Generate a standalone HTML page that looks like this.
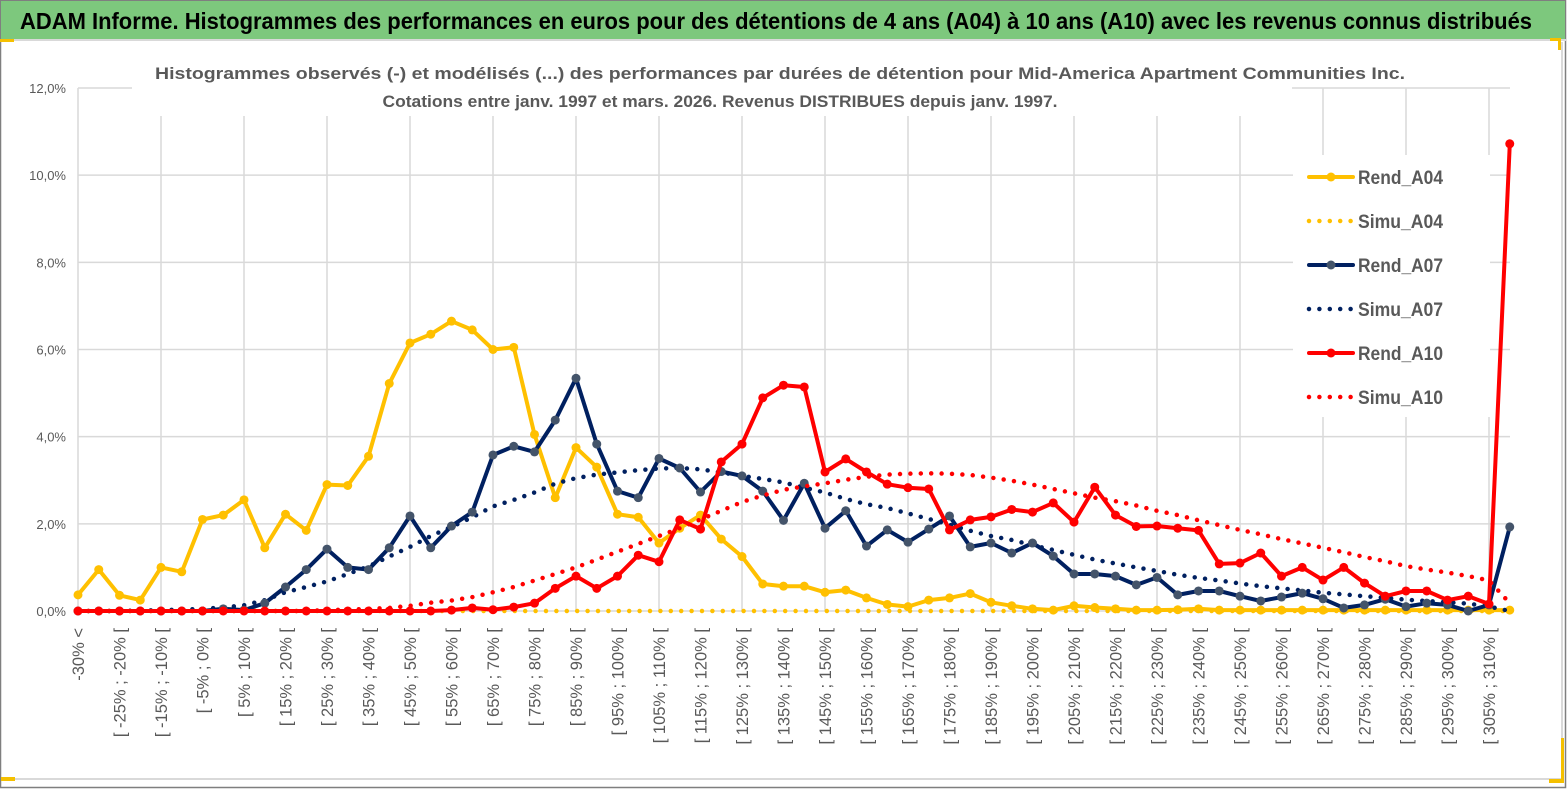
<!DOCTYPE html>
<html><head><meta charset="utf-8"><style>
html,body{margin:0;padding:0;background:#fff;}
svg{display:block;font-family:"Liberation Sans",sans-serif;}
</style></head><body>
<svg id="c" width="1567" height="789" viewBox="0 0 1567 789" xmlns="http://www.w3.org/2000/svg">
<rect x="0" y="0" width="1567" height="789" fill="#fff"/>
<rect x="0.5" y="0.5" width="1565" height="787" fill="none" stroke="#7f7f7f" stroke-width="1.5"/>
<rect x="1" y="1" width="1564" height="38" fill="#7dc87d"/>
<line x1="0" y1="40" x2="1566" y2="40" fill="none" stroke="#d9d9d9" stroke-width="2"/>
<line x1="2" y1="779" x2="1562" y2="779" stroke="#d9d9d9" stroke-width="2"/>
<line x1="1562" y1="42" x2="1562" y2="779" stroke="#d9d9d9" stroke-width="2"/>
<rect x="0" y="39" width="14" height="3" fill="#f5c000"/>
<rect x="1" y="777" width="14" height="4" fill="#f5c000"/>
<rect x="1550" y="38" width="10" height="3" fill="#f5c000"/>
<rect x="1558" y="38" width="3" height="12" fill="#f5c000"/>
<rect x="1561" y="738" width="3" height="44" fill="#f5c000"/>
<rect x="1549" y="779" width="15" height="4" fill="#f5c000"/>
<text x="20" y="29" font-size="23" font-weight="bold" fill="#000" textLength="1512" lengthAdjust="spacingAndGlyphs">ADAM Informe. Histogrammes des performances en euros pour des détentions de 4 ans (A04) à 10 ans (A10) avec les revenus connus distribués</text>
<g id="grid"></g>
<g id="axes"></g>
<rect x="132" y="58" width="1160" height="58" fill="#fff"/>
<text x="780" y="79" font-size="17" font-weight="bold" fill="#595959" text-anchor="middle" textLength="1250" lengthAdjust="spacingAndGlyphs">Histogrammes observés (-) et modélisés (...) des performances par durées de détention pour Mid-America Apartment Communities Inc.</text>
<text x="720" y="107" font-size="17" font-weight="bold" fill="#595959" text-anchor="middle" textLength="675" lengthAdjust="spacingAndGlyphs">Cotations entre janv. 1997 et mars. 2026. Revenus DISTRIBUES depuis janv. 1997.</text>
<g id="series"></g>
<g id="legend"></g>
</svg>
<script>
const categories = ["-30% <"];
for (let a = -30; a < 315; a += 5) categories.push("[ " + a + "% ; " + (a + 5) + "% [");
const yTicks = [0, 2, 4, 6, 8, 10, 12];
const yTickLabels = ["0,0%", "2,0%", "4,0%", "6,0%", "8,0%", "10,0%", "12,0%"];
const rendA04 = [0.37,0.95,0.36,0.25,1.0,0.9,2.1,2.2,2.55,1.45,2.22,1.85,2.9,2.88,3.55,5.22,6.15,6.35,6.65,6.45,6.0,6.05,4.05,2.6,3.75,3.3,2.22,2.15,1.56,1.9,2.2,1.65,1.25,0.62,0.57,0.57,0.43,0.48,0.3,0.15,0.1,0.25,0.3,0.4,0.2,0.12,0.05,0.02,0.12,0.08,0.05,0.02,0.02,0.03,0.05,0.02,0.02,0.02,0.02,0.02,0.02,0.02,0.02,0.02,0.02,0.02,0.02,0.02,0.02,0.02];
const simuA04 = new Array(70).fill(0);
const rendA07 = [0,0,0,0,0,0,0,0.05,0.02,0.18,0.55,0.95,1.42,1.0,0.95,1.45,2.18,1.45,1.95,2.27,3.58,3.78,3.65,4.38,5.34,3.83,2.75,2.6,3.5,3.28,2.73,3.2,3.1,2.75,2.08,2.93,1.9,2.3,1.49,1.86,1.58,1.88,2.18,1.47,1.56,1.33,1.56,1.26,0.85,0.85,0.8,0.6,0.77,0.37,0.46,0.46,0.34,0.23,0.32,0.41,0.28,0.07,0.14,0.27,0.1,0.18,0.14,0.0,0.14,1.93];
const simuA07 = [0,0,0,0.01,0.02,0.03,0.05,0.08,0.13,0.25,0.43,0.55,0.68,0.85,1.02,1.25,1.47,1.72,1.93,2.15,2.4,2.55,2.72,2.92,3.05,3.13,3.18,3.23,3.27,3.28,3.25,3.18,3.1,3.03,2.95,2.83,2.72,2.57,2.45,2.36,2.24,2.11,1.98,1.84,1.72,1.63,1.51,1.4,1.29,1.18,1.09,1.0,0.92,0.83,0.76,0.7,0.63,0.57,0.52,0.47,0.42,0.38,0.34,0.3,0.26,0.23,0.2,0.17,0.1,0.0];
const rendA10 = [0,0,0,0,0,0,0,0,0,0,0,0,0,0,0,0,0,0,0.02,0.07,0.03,0.09,0.18,0.52,0.8,0.52,0.8,1.28,1.13,2.09,1.88,3.42,3.83,4.89,5.18,5.14,3.19,3.49,3.19,2.91,2.83,2.8,1.86,2.09,2.16,2.33,2.27,2.48,2.04,2.84,2.2,1.94,1.95,1.9,1.85,1.08,1.1,1.33,0.8,1.0,0.71,1.0,0.64,0.34,0.46,0.46,0.25,0.34,0.16,10.72];
const simuA10 = [0,0,0,0,0,0,0,0,0,0,0,0,0.02,0.03,0.05,0.07,0.12,0.19,0.24,0.32,0.43,0.55,0.7,0.85,1.0,1.18,1.36,1.54,1.72,1.9,2.1,2.3,2.5,2.65,2.78,2.86,2.93,3.01,3.08,3.13,3.15,3.16,3.15,3.12,3.06,2.99,2.9,2.8,2.7,2.6,2.52,2.42,2.3,2.2,2.08,1.97,1.86,1.76,1.65,1.55,1.45,1.35,1.24,1.14,1.03,0.95,0.88,0.8,0.7,0.18];

const NS = "http://www.w3.org/2000/svg";
const X0 = 78, DX = 20.75, Y0 = 611, YTOP = 88, YMAX = 12, XRIGHT = 1510;
function xs(i){ return X0 + DX * i; }
function ys(v){ return Y0 - (Y0 - YTOP) * v / YMAX; }
function mk(tag, attrs, parent){ const e = document.createElementNS(NS, tag); for (const k in attrs) e.setAttribute(k, attrs[k]); parent.appendChild(e); return e; }

const grid = document.getElementById("grid");
yTicks.forEach((t, i) => {
  const l = mk("line", {x1: X0, x2: XRIGHT, y1: ys(t), y2: ys(t), stroke: "#d9d9d9", "stroke-width": 1.5}, grid);
  
  
  const tx = mk("text", {x: 66, y: ys(t) + 5, "font-size": 13, fill: "#595959", "text-anchor": "end"}, grid);
  tx.textContent = yTickLabels[i];
  
  
});
for (let i = 0; i < categories.length; i += 4) {
  const l = mk("line", {x1: xs(i), x2: xs(i), y1: YTOP, y2: Y0, stroke: "#d9d9d9", "stroke-width": 1.5}, grid);
  
  
}
const axes = document.getElementById("axes");
for (let i = 0; i < categories.length; i += 2) {
  const x = xs(i) + 6, y = 628;
  const tx = mk("text", {x: x, y: y, "font-size": 16.5, fill: "#595959", "text-anchor": "end", transform: "rotate(-90 " + x + " " + y + ")"}, axes);
  tx.textContent = categories[i];
  
  
}

const series = document.getElementById("series");
function pts(arr){ return arr.map((v, i) => xs(i).toFixed(1) + "," + ys(v).toFixed(1)).join(" "); }
function dotted(arr, color, name){
  const p = mk("polyline", {points: pts(arr), fill: "none", stroke: color, "stroke-width": 4.5, "stroke-linecap": "round", "stroke-dasharray": "0 10.4"}, series);
  
  
}
function solid(arr, color, mcolor, name){
  const g = mk("g", {}, series);
  
  
  mk("polyline", {points: pts(arr), fill: "none", stroke: color, "stroke-width": 4, "stroke-linejoin": "round"}, g);
  arr.forEach((v, i) => {
    const c = mk("circle", {cx: xs(i), cy: ys(v), r: 4.5, fill: mcolor}, g);
    
    
  });
}
dotted(simuA04, "#ffc000", "simu-a04-line");
solid(rendA04, "#ffc000", "#ffc000", "rend-a04-line");
dotted(simuA07, "#002060", "simu-a07-line");
solid(rendA07, "#002060", "#44546a", "rend-a07-line");
dotted(simuA10, "#ff0000", "simu-a10-line");
solid(rendA10, "#ff0000", "#ff0000", "rend-a10-line");

const legend = document.getElementById("legend");
mk("rect", {x: 1293, y: 155, width: 197, height: 262, fill: "#fff"}, legend);
const legItems = [["Rend_A04","#ffc000","#ffc000",false],["Simu_A04","#ffc000",null,true],["Rend_A07","#002060","#44546a",false],["Simu_A07","#002060",null,true],["Rend_A10","#ff0000","#ff0000",false],["Simu_A10","#ff0000",null,true]];
legItems.forEach((it, i) => {
  const y = 177 + i * 44;
  const g = mk("g", {}, legend);
  
  
  if (it[3]) {
    mk("line", {x1: 1309, x2: 1353, y1: y, y2: y, stroke: it[1], "stroke-width": 4.5, "stroke-linecap": "round", "stroke-dasharray": "0 10.4"}, g);
  } else {
    mk("line", {x1: 1309, x2: 1353, y1: y, y2: y, stroke: it[1], "stroke-width": 4, "stroke-linecap": "round"}, g);
    mk("circle", {cx: 1331, cy: y, r: 4.5, fill: it[2]}, g);
  }
  const t = mk("text", {x: 1358, y: y + 7, "font-size": 19, "font-weight": "bold", fill: "#595959", textLength: 85, lengthAdjust: "spacingAndGlyphs"}, g);
  t.textContent = it[0];
});
</script>
</body></html>
